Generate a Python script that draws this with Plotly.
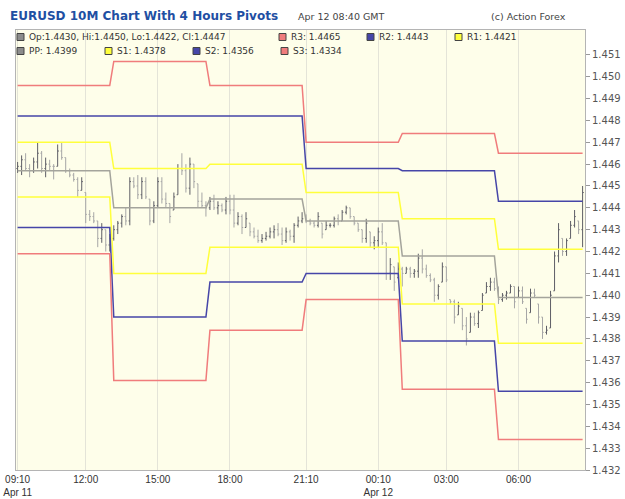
import plotly.graph_objects as go

# ---------------- data ----------------
open_ = [1.4458,1.4459,1.4462,1.4458,1.4457,1.4461,1.4465,1.4458,1.4460,1.4459,
         1.4459,1.4466,1.4463,1.4457,1.4455,1.4453,1.4448,1.4447,1.4437,1.4436,
         1.4434,1.4426,1.4430,1.4423,1.4426,1.4430,1.4433,1.4436,1.4434,1.4452,
         1.4450,1.4446,1.4452,1.4444,1.4434,1.4441,1.4452,1.4444,1.4442,1.4439,
         1.4446,1.4458,1.4457,1.4449,1.4460,1.4451,1.4443,1.4441,1.4440,1.4443,
         1.4440,1.4441,1.4439,1.4443,1.4439,1.4433,1.4436,1.4431,1.4433,1.4429,
         1.4427,1.4425,1.4426,1.4427,1.4429,1.4430,1.4428,1.4425,1.4429,1.4427,
         1.4432,1.4434,1.4435,1.4434,1.4433,1.4432,1.4433,1.4430,1.4432,1.4432,
         1.4435,1.4434,1.4438,1.4440,1.4436,1.4433,1.4430,1.4426,1.4429,1.4424,
         1.4425,1.4429,1.4424,1.4410,1.4413,1.4408,1.4412,1.4410,1.4412,1.4410,
         1.4411,1.4417,1.4412,1.4409,1.4407,1.4400,1.4406,1.4413,1.4398,1.4397,
         1.4391,1.4394,1.4386,1.4383,1.4390,1.4387,1.4393,1.4401,1.4404,1.4406,
         1.4403,1.4398,1.4400,1.4401,1.4404,1.4399,1.4402,1.4394,1.4392,1.4401,
         1.4396,1.4390,1.4383,1.4385,1.4402,1.4418,1.4426,1.4420,1.4426,1.4432,
         1.4434,1.4430]
high = [1.4461,1.4464,1.4465,1.4460,1.4463,1.4470,1.4466,1.4463,1.4462,1.4460,
        1.4469,1.4470,1.4463,1.4458,1.4456,1.4454,1.4454,1.4447,1.4439,1.4438,
        1.4434,1.4433,1.4430,1.4428,1.4432,1.4434,1.4437,1.4440,1.4454,1.4454,
        1.4455,1.4454,1.4454,1.4444,1.4443,1.4454,1.4454,1.4447,1.4442,1.4447,
        1.4460,1.4465,1.4460,1.4463,1.4460,1.4451,1.4447,1.4443,1.4445,1.4446,
        1.4443,1.4442,1.4445,1.4446,1.4446,1.4438,1.4437,1.4438,1.4433,1.4431,
        1.4430,1.4428,1.4429,1.4431,1.4432,1.4433,1.4431,1.4431,1.4430,1.4433,
        1.4436,1.4438,1.4437,1.4435,1.4434,1.4438,1.4433,1.4434,1.4433,1.4436,
        1.4437,1.4439,1.4441,1.4440,1.4436,1.4433,1.4430,1.4435,1.4429,1.4427,
        1.4431,1.4433,1.4424,1.4417,1.4413,1.4415,1.4413,1.4413,1.4413,1.4412,
        1.4419,1.4421,1.4414,1.4410,1.4408,1.4405,1.4415,1.4413,1.4398,1.4398,
        1.4397,1.4394,1.4390,1.4392,1.4392,1.4393,1.4401,1.4406,1.4408,1.4408,
        1.4404,1.4401,1.4402,1.4405,1.4404,1.4404,1.4404,1.4394,1.4403,1.4403,
        1.4396,1.4390,1.4386,1.4402,1.4420,1.4433,1.4426,1.4426,1.4434,1.4439,
        1.4434,1.4450]
low = [1.4456,1.4455,1.4457,1.4454,1.4456,1.4458,1.4456,1.4454,1.4457,1.4453,
       1.4459,1.4462,1.4456,1.4454,1.4452,1.4445,1.4448,1.4433,1.4434,1.4433,
       1.4422,1.4424,1.4420,1.4420,1.4425,1.4428,1.4431,1.4432,1.4432,1.4449,
       1.4444,1.4444,1.4444,1.4432,1.4433,1.4440,1.4442,1.4440,1.4433,1.4439,
       1.4446,1.4455,1.4447,1.4446,1.4449,1.4440,1.4440,1.4436,1.4439,1.4439,
       1.4437,1.4438,1.4437,1.4437,1.4431,1.4432,1.4428,1.4431,1.4427,1.4426,
       1.4424,1.4424,1.4425,1.4426,1.4426,1.4427,1.4423,1.4424,1.4425,1.4424,
       1.4431,1.4433,1.4433,1.4432,1.4431,1.4431,1.4426,1.4430,1.4431,1.4431,
       1.4432,1.4434,1.4437,1.4435,1.4432,1.4429,1.4424,1.4424,1.4422,1.4421,
       1.4422,1.4423,1.4407,1.4407,1.4402,1.4408,1.4404,1.4410,1.4408,1.4408,
       1.4408,1.4410,1.4408,1.4406,1.4397,1.4398,1.4406,1.4406,1.4396,1.4387,
       1.4391,1.4384,1.4377,1.4383,1.4386,1.4385,1.4393,1.4401,1.4402,1.4402,
       1.4396,1.4397,1.4398,1.4401,1.4394,1.4399,1.4396,1.4387,1.4392,1.4399,
       1.4387,1.4380,1.4382,1.4385,1.4402,1.4415,1.4418,1.4418,1.4426,1.4431,
       1.4428,1.4422]
close = [1.4459,1.4462,1.4458,1.4457,1.4461,1.4465,1.4458,1.4460,1.4459,1.4459,
         1.4466,1.4463,1.4457,1.4455,1.4453,1.4448,1.4452,1.4437,1.4436,1.4434,
         1.4426,1.4430,1.4423,1.4426,1.4430,1.4433,1.4436,1.4434,1.4452,1.4450,
         1.4446,1.4452,1.4445,1.4434,1.4441,1.4452,1.4444,1.4442,1.4436,1.4445,
         1.4458,1.4457,1.4449,1.4460,1.4452,1.4443,1.4441,1.4440,1.4443,1.4440,
         1.4441,1.4439,1.4443,1.4439,1.4433,1.4436,1.4431,1.4435,1.4429,1.4427,
         1.4425,1.4426,1.4427,1.4429,1.4430,1.4428,1.4425,1.4429,1.4427,1.4432,
         1.4434,1.4435,1.4434,1.4433,1.4432,1.4436,1.4428,1.4432,1.4432,1.4435,
         1.4434,1.4438,1.4440,1.4436,1.4433,1.4430,1.4426,1.4433,1.4424,1.4425,
         1.4429,1.4424,1.4410,1.4414,1.4406,1.4412,1.4410,1.4412,1.4410,1.4411,
         1.4417,1.4412,1.4409,1.4407,1.4400,1.4404,1.4413,1.4407,1.4397,1.4390,
         1.4395,1.4386,1.4380,1.4390,1.4387,1.4392,1.4400,1.4404,1.4406,1.4403,
         1.4398,1.4400,1.4401,1.4404,1.4397,1.4402,1.4397,1.4389,1.4401,1.4400,
         1.4390,1.4383,1.4384,1.4400,1.4418,1.4430,1.4420,1.4425,1.4432,1.4436,
         1.4430,1.4447]

# 4-hour pivot periods (first bar index of each period)
period_start = [0, 24, 48, 72, 96, 120]
R3 = [1.4496, 1.4507, 1.4496, 1.4470, 1.4474, 1.4465]
R2 = [1.4482, 1.4482, 1.4482, 1.4458, 1.4457, 1.4443]
R1 = [1.4470, 1.4458, 1.4460, 1.4447, 1.4435, 1.4421]
PP = [1.4457, 1.4440, 1.4444, 1.4434, 1.4418, 1.4399]
S1 = [1.4445, 1.4410, 1.4422, 1.4422, 1.4396, 1.4378]
S2 = [1.4431, 1.4390, 1.4406, 1.4410, 1.4379, 1.4356]
S3 = [1.4419, 1.4361, 1.4384, 1.4398, 1.4357, 1.4334]

tick_idx = [0, 17, 35, 53, 72, 90, 107, 125]
tick_text = ["09:10<br>Apr 11", "12:00", "15:00", "18:00", "21:10",
             "00:10<br>Apr 12", "03:00", "06:00"]
y_ticks = [1.432, 1.433, 1.434, 1.435, 1.436, 1.437, 1.438, 1.439, 1.440, 1.441,
           1.442, 1.443, 1.444, 1.445, 1.446, 1.447, 1.448, 1.449, 1.450, 1.451]

title_text = "EURUSD 10M Chart With 4 Hours Pivots"
time_text = "Apr 12 08:40 GMT"
credit_text = "(c) Action Forex"
ohlc_text = "Op:1.4430, Hi:1.4450, Lo:1.4422, Cl:1.4447"

# ---------------- figure ----------------
n = len(close)
idx = list(range(n))

def per_bar(levels):
    out = []
    for i in idx:
        p = 0
        for j, s in enumerate(period_start):
            if i >= s:
                p = j
        out.append(levels[p])
    return out

C_RED = "#f07c7c"
C_BLUE = "#4646a8"
C_YEL = "#ffff3c"
C_PP = "#a4a49c"

fig = go.Figure()
for lv, col in [(R3, C_RED), (R2, C_BLUE), (R1, C_YEL), (PP, C_PP),
                (S1, C_YEL), (S2, C_BLUE), (S3, C_RED)]:
    fig.add_trace(go.Scatter(x=idx, y=per_bar(lv), mode="lines",
                             line=dict(color=col, width=1.5),
                             showlegend=False, hoverinfo="skip"))

fig.add_trace(go.Ohlc(x=idx, open=open_, high=high, low=low, close=close,
                      increasing=dict(line=dict(color="#5e5e66", width=1)),
                      decreasing=dict(line=dict(color="#a6a6a6", width=1)),
                      tickwidth=0.3, showlegend=False, hoverinfo="skip"))

L, R, T, B = 16, 585, 30, 470
W, H = R - L, B - T

def px(x):
    return (x - L) / W

def py(y):
    return (B - y) / H

ann = []
ann.append(dict(text="<b>%s</b>" % title_text, x=px(8), y=py(16), xref="paper", yref="paper",
                xanchor="left", yanchor="middle", showarrow=False,
                font=dict(family="DejaVu Sans", size=12, color="#1f4fa3")))
ann.append(dict(text=time_text, x=px(296), y=py(16), xref="paper", yref="paper",
                xanchor="left", yanchor="middle", showarrow=False,
                font=dict(family="DejaVu Sans", size=9.5, color="#444444")))
ann.append(dict(text=credit_text, x=px(489), y=py(16), xref="paper", yref="paper",
                xanchor="left", yanchor="middle", showarrow=False,
                font=dict(family="DejaVu Sans", size=9.5, color="#444444")))

legend_items = [
    (20, 37, "#8c8c8c", ohlc_text),
    (282, 37, C_RED, "R3: %.4f" % R3[-1]),
    (370, 37, C_BLUE, "R2: %.4f" % R2[-1]),
    (458, 37, C_YEL, "R1: %.4f" % R1[-1]),
    (20, 51, "#8c8c8c", "PP: %.4f" % PP[-1]),
    (108, 51, C_YEL, "S1: %.4f" % S1[-1]),
    (196, 51, C_BLUE, "S2: %.4f" % S2[-1]),
    (284, 51, C_RED, "S3: %.4f" % S3[-1]),
]
shapes = []
for x0, y0, col, txt in legend_items:
    shapes.append(dict(type="rect", xref="paper", yref="paper",
                       x0=px(x0 - 3), x1=px(x0 + 4), y0=py(y0 + 3.5), y1=py(y0 - 3.5),
                       fillcolor=col, line=dict(color="#444444", width=1)))
    ann.append(dict(text=txt, x=px(x0 + 7), y=py(y0), xref="paper", yref="paper",
                    xanchor="left", yanchor="middle", showarrow=False,
                    font=dict(family="DejaVu Sans", size=9, color="#333333")))

fig.update_layout(
    width=625, height=499,
    margin=dict(l=L, r=625 - R, t=T, b=499 - B, autoexpand=False),
    paper_bgcolor="white", plot_bgcolor="#fefeea",
    annotations=ann, shapes=shapes,
    xaxis=dict(range=[-0.4, 141.6], tickvals=tick_idx, ticktext=tick_text,
               showgrid=True, gridcolor="#e4e4d8", gridwidth=1,
               showline=True, linecolor="#b4b4b4", mirror=True, automargin=False,
               ticks="", zeroline=False, rangeslider=dict(visible=False),
               tickfont=dict(family="Liberation Sans", size=10, color="#333333")),
    yaxis=dict(range=[1.432, 1.45214], side="right", tickvals=y_ticks,
               tickformat=".3f", showgrid=False, zeroline=False, automargin=False,
               showline=True, linecolor="#b4b4b4", mirror=True,
               ticks="outside", ticklen=4, tickcolor="#999999",
               tickfont=dict(family="DejaVu Sans", size=10, color="#555555")),
)

fig.write_html("out.html")
